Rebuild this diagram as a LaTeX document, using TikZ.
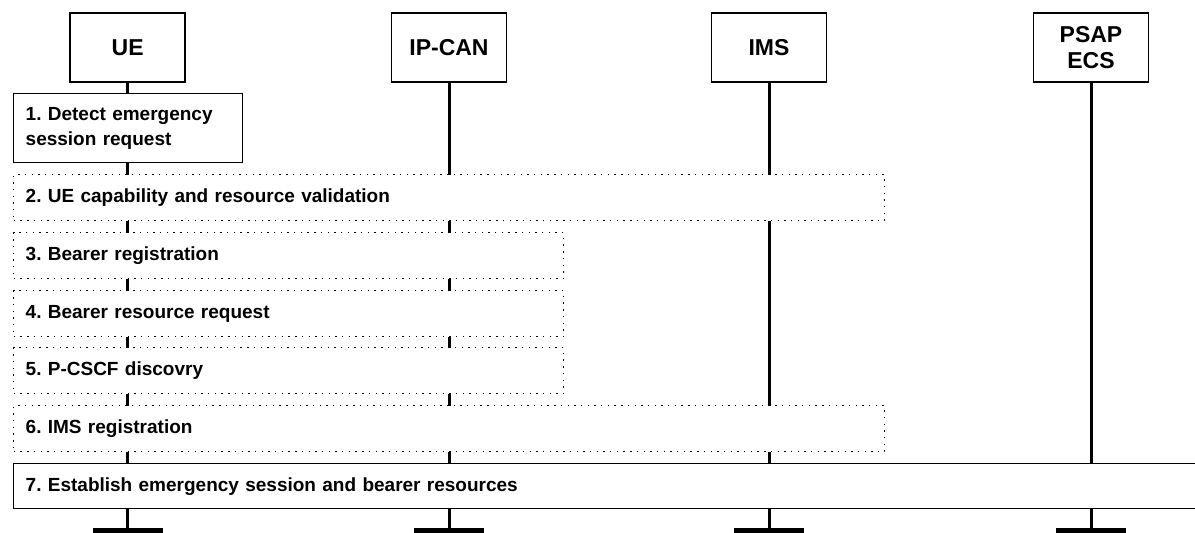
\documentclass[tikz,border=0pt]{standalone}
\usepackage{fontspec}
\setmainfont{Liberation Sans}
\frenchspacing
\begin{document}
\begin{tikzpicture}[x=1pt,y=-1pt,
  entity/.style={draw, line width=1.6pt, minimum width=115pt, minimum height=69pt,
    font=\fontsize{23}{26}\selectfont\bfseries, align=center, inner sep=0pt},
  lifeline/.style={line width=3pt},
  endbar/.style={fill=black, minimum width=70pt, minimum height=8pt, inner sep=0pt, anchor=north},
  stepbox/.style={draw, fill=white, line width=1.4pt, anchor=north west,
    inner xsep=12pt, inner ysep=0pt, align=left,
    font=\fontsize{19}{25}\selectfont\bfseries},
  dotbox/.style={stepbox, line width=1.4pt, dash pattern=on 1.4pt off 5.3pt}
]
\useasboundingbox (0,0) rectangle (1195,533);
\clip (0,0) rectangle (1195,533);

% entities
\node[entity] (ue)   at (127.7,47.5) {UE};
\node[entity] (ipcan) at (449,47.5) {IP-CAN};
\node[entity] (ims)  at (769,47.5) {IMS};
\node[entity] (psap) at (1091,47.5) {PSAP\\ECS};

% end bars
\node[endbar] (ue-bar)    at (127.7,528) {};
\node[endbar] (ipcan-bar) at (449,528) {};
\node[endbar] (ims-bar)   at (769,528) {};
\node[endbar] (psap-bar)  at (1091,528) {};

% lifelines
\draw[lifeline] (ue.south) -- (ue-bar.north);
\draw[lifeline] (ipcan.south) -- (ipcan-bar.north);
\draw[lifeline] (ims.south) -- (ims-bar.north);
\draw[lifeline] (psap.south) -- (psap-bar.north);

% procedure steps
\node[stepbox, minimum width=229pt, minimum height=69pt, text width=205pt]
  (s1) at (13,93) {1. Detect emergency\\session request};
\node[dotbox, minimum width=871pt, minimum height=46pt, text width=847pt]
  (s2) at (13,174) {2. UE capability and resource validation};
\node[dotbox, minimum width=550pt, minimum height=46pt, text width=526pt]
  (s3) at (13,232) {3. Bearer registration};
\node[dotbox, minimum width=550pt, minimum height=46pt, text width=526pt]
  (s4) at (13,290) {4. Bearer resource request};
\node[dotbox, minimum width=550pt, minimum height=46pt, text width=526pt]
  (s5) at (13,347) {5. P-CSCF discovry};
\node[dotbox, minimum width=871pt, minimum height=46pt, text width=847pt]
  (s6) at (13,405) {6. IMS registration};
\node[stepbox, minimum width=1200pt, minimum height=45pt, text width=1176pt]
  (s7) at (13,463) {7. Establish emergency session and bearer resources};
\end{tikzpicture}
\end{document}
